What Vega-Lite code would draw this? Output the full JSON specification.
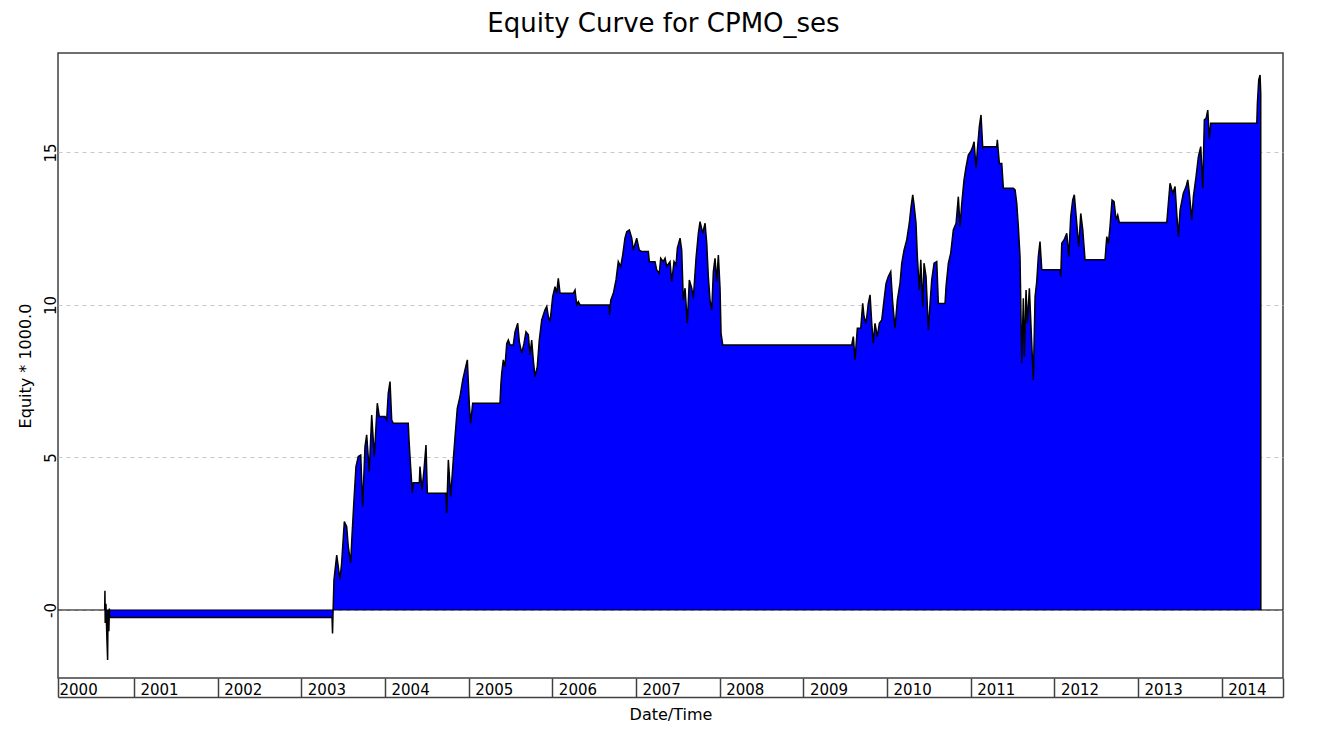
{
  "$schema": "https://vega.github.io/schema/vega-lite/v6.json",
  "autosize": {"type": "none"},
  "padding": {"left": 58, "top": 53, "right": 42, "bottom": 69},
  "width": 1225,
  "height": 625,
  "background": "white",
  "title": {
    "text": "Equity Curve for CPMO_ses",
    "font": "DejaVu Sans",
    "fontSize": 26,
    "fontWeight": "normal",
    "color": "#000000",
    "anchor": "middle",
    "offset": 16,
    "dx": -7
  },
  "config": {
    "font": "DejaVu Sans",
    "view": {"stroke": "#404040", "strokeWidth": 1.5}
  },
  "datasets": {
    "equity": [
      {"date": 2000.650, "equity": 0},
      {"date": 2000.653, "equity": 0.63},
      {"date": 2000.656, "equity": -0.43},
      {"date": 2000.665, "equity": 0.2},
      {"date": 2000.676, "equity": -0.9},
      {"date": 2000.685, "equity": -1.64},
      {"date": 2000.690, "equity": 0.0},
      {"date": 2000.700, "equity": -0.7},
      {"date": 2000.706, "equity": 0.05},
      {"date": 2000.712, "equity": -0.25},
      {"date": 2003.367, "equity": -0.25},
      {"date": 2003.373, "equity": -0.77},
      {"date": 2003.378, "equity": -0.2},
      {"date": 2003.390, "equity": 0.98},
      {"date": 2003.423, "equity": 1.8},
      {"date": 2003.462, "equity": 1.0},
      {"date": 2003.482, "equity": 1.54},
      {"date": 2003.514, "equity": 2.9},
      {"date": 2003.542, "equity": 2.73},
      {"date": 2003.561, "equity": 2.08},
      {"date": 2003.590, "equity": 1.54},
      {"date": 2003.602, "equity": 2.24},
      {"date": 2003.629, "equity": 3.6},
      {"date": 2003.653, "equity": 4.7},
      {"date": 2003.681, "equity": 5.03},
      {"date": 2003.710, "equity": 5.08},
      {"date": 2003.733, "equity": 3.39},
      {"date": 2003.761, "equity": 5.36},
      {"date": 2003.781, "equity": 5.74},
      {"date": 2003.812, "equity": 4.53},
      {"date": 2003.841, "equity": 6.39},
      {"date": 2003.872, "equity": 5.03},
      {"date": 2003.908, "equity": 6.78},
      {"date": 2003.932, "equity": 6.34},
      {"date": 2004.000, "equity": 6.34},
      {"date": 2004.020, "equity": 6.23},
      {"date": 2004.039, "equity": 7.1},
      {"date": 2004.060, "equity": 7.49},
      {"date": 2004.080, "equity": 6.23},
      {"date": 2004.099, "equity": 6.12},
      {"date": 2004.278, "equity": 6.12},
      {"date": 2004.287, "equity": 5.57},
      {"date": 2004.307, "equity": 4.66},
      {"date": 2004.326, "equity": 3.83},
      {"date": 2004.338, "equity": 4.17},
      {"date": 2004.410, "equity": 4.17},
      {"date": 2004.418, "equity": 4.7},
      {"date": 2004.442, "equity": 3.93},
      {"date": 2004.466, "equity": 4.59},
      {"date": 2004.490, "equity": 5.41},
      {"date": 2004.506, "equity": 3.83},
      {"date": 2004.729, "equity": 3.83},
      {"date": 2004.737, "equity": 3.17},
      {"date": 2004.757, "equity": 4.92},
      {"date": 2004.785, "equity": 3.72},
      {"date": 2004.816, "equity": 4.92},
      {"date": 2004.837, "equity": 5.68},
      {"date": 2004.864, "equity": 6.61},
      {"date": 2004.896, "equity": 6.99},
      {"date": 2004.929, "equity": 7.54},
      {"date": 2004.960, "equity": 7.92},
      {"date": 2004.984, "equity": 8.2},
      {"date": 2005.008, "equity": 6.72},
      {"date": 2005.024, "equity": 6.12},
      {"date": 2005.048, "equity": 6.78},
      {"date": 2005.374, "equity": 6.78},
      {"date": 2005.385, "equity": 7.4},
      {"date": 2005.395, "equity": 7.76},
      {"date": 2005.414, "equity": 8.2},
      {"date": 2005.434, "equity": 7.98},
      {"date": 2005.455, "equity": 8.74},
      {"date": 2005.474, "equity": 8.85},
      {"date": 2005.494, "equity": 8.69},
      {"date": 2005.533, "equity": 8.69},
      {"date": 2005.554, "equity": 9.12},
      {"date": 2005.586, "equity": 9.4},
      {"date": 2005.605, "equity": 8.8},
      {"date": 2005.634, "equity": 8.42},
      {"date": 2005.661, "equity": 8.74},
      {"date": 2005.685, "equity": 9.12},
      {"date": 2005.713, "equity": 9.02},
      {"date": 2005.733, "equity": 8.36},
      {"date": 2005.753, "equity": 8.85},
      {"date": 2005.772, "equity": 8.2},
      {"date": 2005.793, "equity": 7.65},
      {"date": 2005.820, "equity": 7.98},
      {"date": 2005.844, "equity": 8.85},
      {"date": 2005.873, "equity": 9.51},
      {"date": 2005.892, "equity": 9.67},
      {"date": 2005.912, "equity": 9.84},
      {"date": 2005.933, "equity": 9.95},
      {"date": 2005.952, "equity": 9.62},
      {"date": 2005.972, "equity": 9.45},
      {"date": 2005.992, "equity": 9.95},
      {"date": 2006.004, "equity": 10.27},
      {"date": 2006.032, "equity": 10.6},
      {"date": 2006.052, "equity": 10.38},
      {"date": 2006.071, "equity": 10.87},
      {"date": 2006.092, "equity": 10.38},
      {"date": 2006.251, "equity": 10.38},
      {"date": 2006.271, "equity": 10.49},
      {"date": 2006.291, "equity": 10.0},
      {"date": 2006.310, "equity": 10.11},
      {"date": 2006.331, "equity": 10.0},
      {"date": 2006.681, "equity": 10.0},
      {"date": 2006.684, "equity": 9.67},
      {"date": 2006.698, "equity": 10.16},
      {"date": 2006.729, "equity": 10.38},
      {"date": 2006.761, "equity": 10.82},
      {"date": 2006.788, "equity": 11.42},
      {"date": 2006.817, "equity": 11.26},
      {"date": 2006.841, "equity": 11.64},
      {"date": 2006.868, "equity": 12.19},
      {"date": 2006.889, "equity": 12.4},
      {"date": 2006.920, "equity": 12.46},
      {"date": 2006.949, "equity": 12.19},
      {"date": 2006.968, "equity": 11.8},
      {"date": 2007.008, "equity": 12.19},
      {"date": 2007.039, "equity": 11.8},
      {"date": 2007.068, "equity": 11.75},
      {"date": 2007.147, "equity": 11.75},
      {"date": 2007.159, "equity": 11.42},
      {"date": 2007.227, "equity": 11.42},
      {"date": 2007.247, "equity": 11.15},
      {"date": 2007.278, "equity": 11.04},
      {"date": 2007.295, "equity": 11.53},
      {"date": 2007.326, "equity": 11.42},
      {"date": 2007.347, "equity": 11.53},
      {"date": 2007.367, "equity": 11.26},
      {"date": 2007.406, "equity": 11.42},
      {"date": 2007.427, "equity": 10.77},
      {"date": 2007.454, "equity": 11.42},
      {"date": 2007.478, "equity": 11.31},
      {"date": 2007.494, "equity": 11.86},
      {"date": 2007.526, "equity": 12.19},
      {"date": 2007.546, "equity": 11.8},
      {"date": 2007.565, "equity": 10.16},
      {"date": 2007.586, "equity": 10.55},
      {"date": 2007.613, "equity": 9.4},
      {"date": 2007.637, "equity": 10.82},
      {"date": 2007.666, "equity": 10.55},
      {"date": 2007.685, "equity": 10.22},
      {"date": 2007.717, "equity": 11.53},
      {"date": 2007.745, "equity": 12.35},
      {"date": 2007.765, "equity": 12.73},
      {"date": 2007.797, "equity": 12.35},
      {"date": 2007.825, "equity": 12.68},
      {"date": 2007.845, "equity": 12.02},
      {"date": 2007.864, "equity": 10.93},
      {"date": 2007.884, "equity": 10.16},
      {"date": 2007.905, "equity": 9.84},
      {"date": 2007.924, "equity": 11.09},
      {"date": 2007.944, "equity": 11.53},
      {"date": 2007.964, "equity": 10.77},
      {"date": 2007.984, "equity": 11.64},
      {"date": 2008.004, "equity": 10.55},
      {"date": 2008.016, "equity": 9.07},
      {"date": 2008.036, "equity": 8.69},
      {"date": 2009.578, "equity": 8.69},
      {"date": 2009.597, "equity": 8.96},
      {"date": 2009.617, "equity": 8.2},
      {"date": 2009.645, "equity": 9.24},
      {"date": 2009.686, "equity": 9.24},
      {"date": 2009.709, "equity": 10.05},
      {"date": 2009.725, "equity": 9.62},
      {"date": 2009.749, "equity": 9.4},
      {"date": 2009.776, "equity": 10.05},
      {"date": 2009.797, "equity": 10.33},
      {"date": 2009.817, "equity": 9.4},
      {"date": 2009.836, "equity": 8.74},
      {"date": 2009.856, "equity": 9.4},
      {"date": 2009.884, "equity": 8.96},
      {"date": 2009.908, "equity": 9.4},
      {"date": 2009.937, "equity": 9.51},
      {"date": 2009.964, "equity": 10.16},
      {"date": 2009.988, "equity": 10.71},
      {"date": 2010.015, "equity": 10.93},
      {"date": 2010.044, "equity": 11.09},
      {"date": 2010.068, "equity": 10.05},
      {"date": 2010.095, "equity": 9.24},
      {"date": 2010.123, "equity": 10.16},
      {"date": 2010.155, "equity": 10.71},
      {"date": 2010.176, "equity": 11.37},
      {"date": 2010.203, "equity": 11.8},
      {"date": 2010.235, "equity": 12.13},
      {"date": 2010.266, "equity": 12.68},
      {"date": 2010.287, "equity": 13.22},
      {"date": 2010.307, "equity": 13.61},
      {"date": 2010.323, "equity": 13.28},
      {"date": 2010.346, "equity": 12.68},
      {"date": 2010.362, "equity": 11.59},
      {"date": 2010.386, "equity": 10.49},
      {"date": 2010.403, "equity": 11.48},
      {"date": 2010.427, "equity": 9.95},
      {"date": 2010.442, "equity": 11.37},
      {"date": 2010.466, "equity": 10.93},
      {"date": 2010.494, "equity": 9.18},
      {"date": 2010.514, "equity": 10.05},
      {"date": 2010.534, "equity": 10.82},
      {"date": 2010.562, "equity": 11.37},
      {"date": 2010.594, "equity": 11.42},
      {"date": 2010.613, "equity": 10.05},
      {"date": 2010.693, "equity": 10.05},
      {"date": 2010.705, "equity": 10.6},
      {"date": 2010.733, "equity": 11.37},
      {"date": 2010.761, "equity": 11.7},
      {"date": 2010.792, "equity": 12.46},
      {"date": 2010.825, "equity": 12.68},
      {"date": 2010.852, "equity": 13.55},
      {"date": 2010.872, "equity": 12.57},
      {"date": 2010.893, "equity": 13.33},
      {"date": 2010.920, "equity": 14.1},
      {"date": 2010.944, "equity": 14.53},
      {"date": 2010.972, "equity": 14.92},
      {"date": 2011.000, "equity": 15.03},
      {"date": 2011.024, "equity": 15.19},
      {"date": 2011.040, "equity": 15.35},
      {"date": 2011.064, "equity": 14.48},
      {"date": 2011.079, "equity": 15.08},
      {"date": 2011.103, "equity": 15.85},
      {"date": 2011.123, "equity": 16.23},
      {"date": 2011.144, "equity": 15.14},
      {"date": 2011.159, "equity": 15.19},
      {"date": 2011.311, "equity": 15.19},
      {"date": 2011.318, "equity": 15.41},
      {"date": 2011.342, "equity": 14.64},
      {"date": 2011.371, "equity": 14.64},
      {"date": 2011.390, "equity": 13.83},
      {"date": 2011.509, "equity": 13.83},
      {"date": 2011.530, "equity": 13.77},
      {"date": 2011.550, "equity": 13.33},
      {"date": 2011.569, "equity": 12.57},
      {"date": 2011.589, "equity": 11.59},
      {"date": 2011.610, "equity": 8.09},
      {"date": 2011.629, "equity": 10.22},
      {"date": 2011.641, "equity": 8.31},
      {"date": 2011.661, "equity": 10.49},
      {"date": 2011.677, "equity": 9.4},
      {"date": 2011.701, "equity": 10.55},
      {"date": 2011.729, "equity": 8.74},
      {"date": 2011.748, "equity": 7.54},
      {"date": 2011.769, "equity": 10.27},
      {"date": 2011.789, "equity": 10.77},
      {"date": 2011.808, "equity": 11.59},
      {"date": 2011.828, "equity": 12.08},
      {"date": 2011.849, "equity": 11.15},
      {"date": 2012.068, "equity": 11.15},
      {"date": 2012.076, "equity": 10.93},
      {"date": 2012.088, "equity": 12.02},
      {"date": 2012.115, "equity": 12.13},
      {"date": 2012.148, "equity": 12.35},
      {"date": 2012.172, "equity": 11.59},
      {"date": 2012.195, "equity": 12.9},
      {"date": 2012.219, "equity": 13.44},
      {"date": 2012.238, "equity": 13.61},
      {"date": 2012.267, "equity": 12.68},
      {"date": 2012.291, "equity": 11.91},
      {"date": 2012.315, "equity": 13.0},
      {"date": 2012.339, "equity": 12.46},
      {"date": 2012.366, "equity": 11.48},
      {"date": 2012.605, "equity": 11.48},
      {"date": 2012.626, "equity": 12.24},
      {"date": 2012.645, "equity": 12.02},
      {"date": 2012.665, "equity": 12.57},
      {"date": 2012.689, "equity": 13.44},
      {"date": 2012.713, "equity": 13.39},
      {"date": 2012.737, "equity": 12.79},
      {"date": 2012.757, "equity": 12.95},
      {"date": 2012.776, "equity": 12.7},
      {"date": 2013.343, "equity": 12.7},
      {"date": 2013.362, "equity": 13.33},
      {"date": 2013.382, "equity": 13.99},
      {"date": 2013.415, "equity": 13.66},
      {"date": 2013.442, "equity": 13.88},
      {"date": 2013.462, "equity": 13.0},
      {"date": 2013.482, "equity": 12.24},
      {"date": 2013.502, "equity": 13.11},
      {"date": 2013.541, "equity": 13.66},
      {"date": 2013.574, "equity": 13.88},
      {"date": 2013.594, "equity": 14.1},
      {"date": 2013.613, "equity": 13.66},
      {"date": 2013.642, "equity": 12.79},
      {"date": 2013.661, "equity": 13.55},
      {"date": 2013.693, "equity": 14.21},
      {"date": 2013.721, "equity": 14.86},
      {"date": 2013.749, "equity": 15.19},
      {"date": 2013.773, "equity": 13.83},
      {"date": 2013.792, "equity": 16.07},
      {"date": 2013.813, "equity": 16.12},
      {"date": 2013.833, "equity": 16.39},
      {"date": 2013.852, "equity": 15.46},
      {"date": 2013.869, "equity": 15.96},
      {"date": 2014.419, "equity": 15.96},
      {"date": 2014.426, "equity": 16.61},
      {"date": 2014.442, "equity": 17.38},
      {"date": 2014.458, "equity": 17.54},
      {"date": 2014.466, "equity": 16.94},
      {"date": 2014.467, "equity": 0}
    ]
  },
  "layer": [
    {
      "data": {"name": "equity"},
      "encoding": {
        "x": {
          "field": "date",
          "type": "quantitative",
          "scale": {"domain": [2000.092, 2014.732], "nice": false, "zero": false},
          "axis": {
            "orient": "bottom",
            "offset": 19,
            "values": [2000.092, 2001, 2002, 2003, 2004, 2005, 2006, 2007, 2008, 2009, 2010, 2011, 2012, 2013, 2014, 2014.732],
            "labelExpr": "datum.value > 2014.5 ? '' : format(floor(datum.value), 'd')",
            "grid": false,
            "domain": true,
            "domainColor": "#404040",
            "domainWidth": 1.5,
            "ticks": true,
            "tickSize": -19,
            "tickColor": "#404040",
            "tickWidth": 1.5,
            "labelAlign": "left",
            "labelBaseline": "top",
            "labelPadding": 4,
            "labelOffset": {"condition": {"test": "datum.value < 2000.5", "value": 1}, "value": 6},
            "labelFont": "DejaVu Sans",
            "labelFontSize": 15,
            "labelColor": "#000000",
            "labelFlush": false,
            "labelOverlap": false,
            "labelBound": false,
            "title": "Date/Time",
            "titleFont": "DejaVu Sans",
            "titleFontSize": 16,
            "titleFontWeight": "normal",
            "titleColor": "#000000",
            "titlePadding": 9
          }
        },
        "y": {
          "field": "equity",
          "type": "quantitative",
          "title": "Equity * 1000.0",
          "scale": {"domain": [-2.23, 18.26], "nice": false, "zero": false},
          "axis": {
            "values": [0, 5, 10, 15],
            "labelExpr": "datum.value === 0 ? '-0' : datum.label",
            "labelAngle": 270,
            "labelAlign": "center",
            "labelBaseline": "alphabetic",
            "labelPadding": 3,
            "labelFont": "DejaVu Sans",
            "labelFontSize": 15,
            "labelColor": "#000000",
            "ticks": false,
            "domain": false,
            "grid": true,
            "gridColor": "#c8c8c8",
            "gridDash": [4, 4],
            "gridWidth": 1,
            "titleFont": "DejaVu Sans",
            "titleFontSize": 16,
            "titleFontWeight": "normal",
            "titleColor": "#000000",
            "titlePadding": 10
          }
        }
      },
      "layer": [
        {"mark": {"type": "area", "color": "#0000ff", "opacity": 1, "interpolate": "linear"}},
        {"mark": {"type": "line", "color": "#000000", "strokeWidth": 1.5, "interpolate": "linear"}}
      ]
    },
    {
      "data": {"values": [{"equity": 0}]},
      "mark": {"type": "rule", "color": "#000000", "strokeWidth": 1},
      "encoding": {
        "y": {"field": "equity", "type": "quantitative", "title": "Equity * 1000.0"}
      }
    }
  ]
}
